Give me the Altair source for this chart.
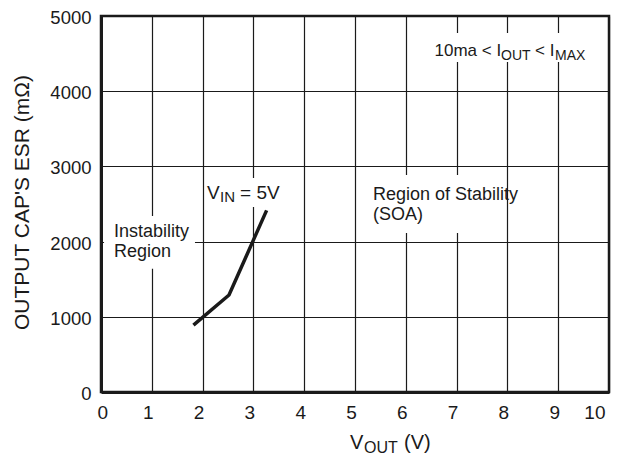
import altair as alt
import pandas as pd

# ---- data ----
vout = [1.82, 2.52, 3.26]          # V_OUT (V)
esr = [890, 1290, 2415]            # ESR (mOhm), V_IN = 5V boundary

x_ticks = [0, 1, 2, 3, 4, 5, 6, 7, 8, 9, 10]
y_ticks = [0, 1000, 2000, 3000, 4000, 5000]

# annotation boxes (white backgrounds behind labels), data coordinates
box_x = [0.06, 2.05, 5.3, 6.5]
box_x2 = [1.85, 3.7, 7.5, 9.8]
box_y = [1640, 2460, 2114, 4388]
box_y2 = [2340, 2846, 2886, 4774]

FONT = "Liberation Sans"
INK = "#1a1a1a"
W, H = 508, 376

xs = alt.Scale(domain=[0, 10], nice=False, zero=False)
ys = alt.Scale(domain=[0, 5000], nice=False)

XAX = alt.Axis(values=x_ticks, title="", labelOffset=-4, labelPadding=11, format="d",
               labelFontSize=19)
YAX = alt.Axis(values=y_ticks, title="OUTPUT CAP'S ESR (mΩ)", format="d",
               titleX=-79, titleY=H / 2 - 2, titleAngle=270, titleFontSize=21,
               titleAlign="center", titleBaseline="middle", labelPadding=10,
               labelOffset=1.5, labelFontSize=18.5)

curve = pd.DataFrame({"x": vout, "y": esr})
boxes = pd.DataFrame({"x": box_x, "x2": box_x2, "y": box_y, "y2": box_y2})

line = alt.Chart(curve).mark_line(color=INK, strokeWidth=3.5, strokeCap="butt").encode(
    x=alt.X("x:Q", scale=xs, axis=XAX),
    y=alt.Y("y:Q", scale=ys, axis=YAX),
)

bg = alt.Chart(boxes).mark_rect(color="white").encode(
    x=alt.X("x:Q", scale=xs, axis=XAX), x2="x2:Q",
    y=alt.Y("y:Q", scale=ys, axis=YAX), y2="y2:Q",
)


def piece(x, y, text, size, dx=0, dy=0, lh=None):
    props = dict(align="left", baseline="alphabetic", fontSize=size, dx=dx, dy=dy,
                 font=FONT, color=INK)
    if lh is not None:
        props["lineBreak"] = "\n"
        props["lineHeight"] = lh
    return alt.Chart(pd.DataFrame({"x": [x], "y": [y], "t": [text]})).mark_text(**props).encode(
        x=alt.X("x:Q", scale=xs, axis=XAX),
        y=alt.Y("y:Q", scale=ys, axis=YAX),
        text="t:N",
    )


def px_piece(px, py, text, size, dy=0):
    return alt.Chart(pd.DataFrame({"t": [text]})).mark_text(
        align="left", baseline="alphabetic", fontSize=size, dy=dy, font=FONT, color=INK
    ).encode(x=alt.value(px), y=alt.value(py), text="t:N")


texts = [
    piece(0.256, 2061, "Instability\nRegion", 18, lh=20),
    piece(5.354, 2553, "Region of Stability\n(SOA)", 18, lh=20),
    # V_IN = 5V
    piece(2.087, 2566, "V", 19),
    piece(2.087, 2566, "IN", 15, dx=13, dy=2.5),
    piece(2.087, 2566, "= 5V", 19, dx=33),
    # 10ma < I_OUT < I_MAX
    piece(6.565, 4472, "10ma < I", 17),
    piece(6.565, 4472, "OUT", 14, dx=66.5, dy=4),
    piece(6.565, 4472, "< I", 17, dx=100.5),
    piece(6.565, 4472, "MAX", 14, dx=120.5, dy=4),
    # x-axis title V_OUT (V)
    px_piece(249, 433, "V", 20),
    px_piece(263, 433, "OUT", 16, dy=3.5),
    px_piece(303, 433, "(V)", 20),
]

chart = alt.layer(bg, line, *texts).properties(
    width=W, height=H,
    autosize=alt.AutoSizeParams(type="none"),
    padding={"left": 93, "top": 8, "right": 7, "bottom": 63},
).configure_view(
    stroke=INK, strokeWidth=2.5
).configure_axis(
    grid=True, gridColor=INK, gridWidth=1.2, gridOpacity=1,
    domainColor=INK, domainWidth=3, ticks=False,
    labelFont=FONT, labelColor=INK,
    titleFont=FONT, titleColor=INK, titleFontWeight="normal",
)

chart.save("out.html", embed_options={"renderer": "svg", "actions": False})
